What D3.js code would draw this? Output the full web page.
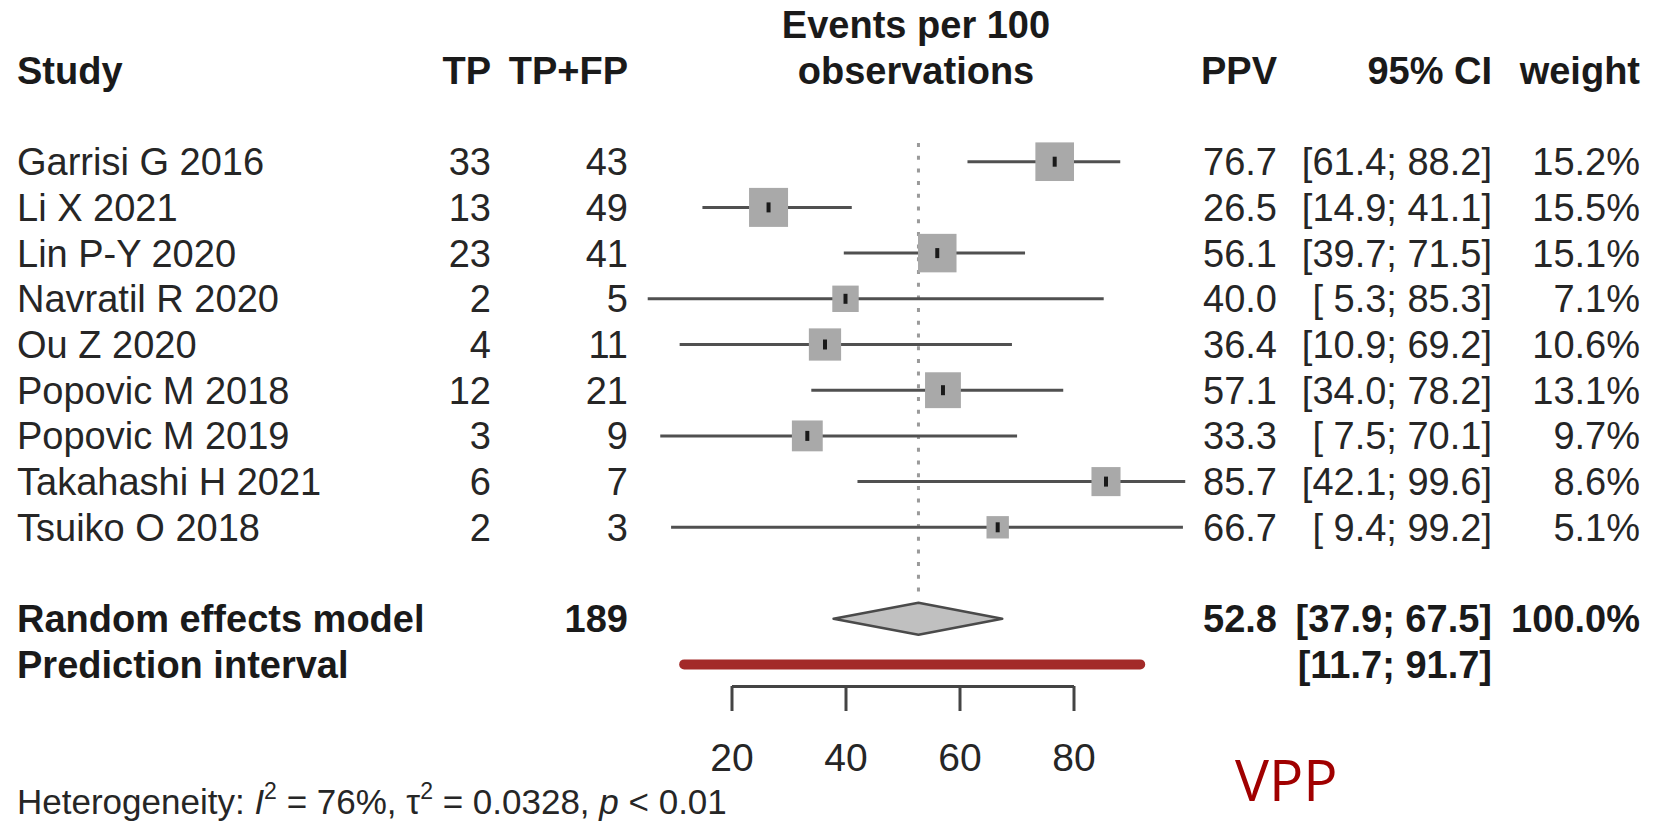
<!DOCTYPE html>
<html>
<head>
<meta charset="utf-8">
<script src="https://cdn.jsdelivr.net/npm/d3@7"></script>
<style>
  html, body { margin: 0; padding: 0; background: #fff; }
  text { font-family: "Liberation Sans", Arial, sans-serif; fill: #262626; white-space: pre; }
  .bold { font-weight: bold; fill: #1a1a1a; }
</style>
</head>
<body>
<div id="chart"></div>
<script>
document.addEventListener('DOMContentLoaded', init, false);

var width = 1663;
var height = 826;

var studies = ['Garrisi G 2016', 'Li X 2021', 'Lin P-Y 2020', 'Navratil R 2020', 'Ou Z 2020',
  'Popovic M 2018', 'Popovic M 2019', 'Takahashi H 2021', 'Tsuiko O 2018'];
var tp = [33, 13, 23, 2, 4, 12, 3, 6, 2];
var tpfp = [43, 49, 41, 5, 11, 21, 9, 7, 3];
var ppv = [76.7, 26.5, 56.1, 40.0, 36.4, 57.1, 33.3, 85.7, 66.7];
var lower = [61.4, 14.9, 39.7, 5.3, 10.9, 34.0, 7.5, 42.1, 9.4];
var upper = [88.2, 41.1, 71.5, 85.3, 69.2, 78.2, 70.1, 99.6, 99.2];
var weights = [15.2, 15.5, 15.1, 7.1, 10.6, 13.1, 9.7, 8.6, 5.1];

var pooled = [52.8, 37.9, 67.5];
var pooledTotal = 189;
var pooledWeight = 100.0;
var prediction = [11.7, 91.7];
var xTicks = [20, 40, 60, 80];

var fontSize = 38;

function init() {

  var svg = d3.select('#chart')
    .append('svg')
      .attr('width', width)
      .attr('height', height);

  var x = d3.scaleLinear()
    .domain([20, 80])
    .range([731.5, 1073.5]);

  // row index -> row centre
  var y = d3.scaleLinear()
    .domain([0, 8])
    .range([161.7, 527.3]);

  var box = d3.scaleSqrt()
    .domain([0, 15.5])
    .range([0, 39]);

  var col = { study: 17, tp: 491, tpfp: 628, ppv: 1277, ci: 1492, weight: 1640 };
  var base = 13.5;

  drawHeader(svg, col, x);
  drawStudies(svg, col, x, y, box, base);
  drawSummary(svg, col, x, y, base);
  drawAxis(svg, x);
  drawFooter(svg);
}

function fmtCI(lo, hi) {
  var a = lo.toFixed(1);
  if (lo < 10) a = ' ' + a;
  return '[' + a + '; ' + hi.toFixed(1) + ']';
}

function addText(g, txt, xPos, yPos, anchor, cls) {
  return g.append('text')
    .attr('x', xPos)
    .attr('y', yPos)
    .attr('text-anchor', anchor)
    .attr('class', cls || null)
    .attr('font-size', fontSize)
    .text(txt);
}

function drawHeader(svg, col, x) {

  var g = svg.append('g').attr('class', 'header');
  var hy = 84;

  addText(g, 'Study', col.study, hy, 'start', 'bold');
  addText(g, 'TP', col.tp, hy, 'end', 'bold');
  addText(g, 'TP+FP', col.tpfp, hy, 'end', 'bold');
  addText(g, 'Events per 100', 916, 38, 'middle', 'bold');
  addText(g, 'observations', 916, hy, 'middle', 'bold');
  addText(g, 'PPV', col.ppv, hy, 'end', 'bold');
  addText(g, '95% CI', col.ci, hy, 'end', 'bold');
  addText(g, 'weight', col.weight, hy, 'end', 'bold');
}

function drawStudies(svg, col, x, y, box, base) {

  // reference line at the pooled estimate
  svg.append('line')
    .attr('x1', x(pooled[0]))
    .attr('x2', x(pooled[0]))
    .attr('y1', 143)
    .attr('y2', 600)
    .attr('stroke', '#9a9a9a')
    .attr('stroke-width', 3)
    .attr('stroke-dasharray', '4,8.7');

  var rows = svg.append('g')
      .attr('class', 'studies')
    .selectAll('g')
      .data(studies)
      .enter()
    .append('g');

  rows.append('line')
    .attr('x1', function (d, i) { return x(lower[i]); })
    .attr('x2', function (d, i) { return x(upper[i]); })
    .attr('y1', function (d, i) { return y(i); })
    .attr('y2', function (d, i) { return y(i); })
    .attr('stroke', '#505050')
    .attr('stroke-width', 3);

  rows.append('rect')
    .attr('x', function (d, i) { return x(ppv[i]) - box(weights[i]) / 2; })
    .attr('y', function (d, i) { return y(i) - box(weights[i]) / 2; })
    .attr('width', function (d, i) { return box(weights[i]); })
    .attr('height', function (d, i) { return box(weights[i]); })
    .attr('fill', '#a9a9a9');

  rows.append('line')
    .attr('x1', function (d, i) { return x(ppv[i]); })
    .attr('x2', function (d, i) { return x(ppv[i]); })
    .attr('y1', function (d, i) { return y(i) - 5; })
    .attr('y2', function (d, i) { return y(i) + 5; })
    .attr('stroke', '#1a1a1a')
    .attr('stroke-width', 4);

  rows.each(function (d, i) {
    var g = d3.select(this);
    var ty = y(i) + base;
    addText(g, d, col.study, ty, 'start');
    addText(g, tp[i], col.tp, ty, 'end');
    addText(g, tpfp[i], col.tpfp, ty, 'end');
    addText(g, ppv[i].toFixed(1), col.ppv, ty, 'end');
    addText(g, fmtCI(lower[i], upper[i]), col.ci, ty, 'end');
    addText(g, weights[i].toFixed(1) + '%', col.weight, ty, 'end');
  });
}

function drawSummary(svg, col, x, y, base) {

  var g = svg.append('g').attr('class', 'summary');
  var ry = y(10);
  var py = y(11);

  var diamond = [
    [x(pooled[1]), ry],
    [x(pooled[0]), ry - 16],
    [x(pooled[2]), ry],
    [x(pooled[0]), ry + 16]
  ];

  g.append('path')
    .attr('d', d3.line()(diamond) + 'Z')
    .attr('fill', '#c0c0c0')
    .attr('stroke', '#4a4a4a')
    .attr('stroke-width', 2.5)
    .attr('stroke-linejoin', 'round');

  g.append('line')
    .attr('x1', x(prediction[0]))
    .attr('x2', x(prediction[1]))
    .attr('y1', py)
    .attr('y2', py)
    .attr('stroke', '#a32a29')
    .attr('stroke-width', 10)
    .attr('stroke-linecap', 'round');

  addText(g, 'Random effects model', col.study, ry + base, 'start', 'bold');
  addText(g, pooledTotal, col.tpfp, ry + base, 'end', 'bold');
  addText(g, pooled[0].toFixed(1), col.ppv, ry + base, 'end', 'bold');
  addText(g, fmtCI(pooled[1], pooled[2]), col.ci, ry + base, 'end', 'bold');
  addText(g, pooledWeight.toFixed(1) + '%', col.weight, ry + base, 'end', 'bold');

  addText(g, 'Prediction interval', col.study, py + base, 'start', 'bold');
  addText(g, fmtCI(prediction[0], prediction[1]), col.ci, py + base, 'end', 'bold');
}

function drawAxis(svg, x) {

  var axis = svg.append('g')
    .attr('class', 'axis')
    .attr('transform', 'translate(0,686)')
    .call(d3.axisBottom(x)
      .tickValues(xTicks)
      .tickSize(25)
      .tickSizeOuter(0)
      .tickPadding(32));

  axis.select('.domain')
    .attr('stroke', '#444')
    .attr('stroke-width', 3);

  axis.selectAll('.tick line')
    .attr('stroke', '#444')
    .attr('stroke-width', 3);

  axis.selectAll('.tick text')
    .attr('font-size', 39)
    .attr('font-family', '"Liberation Sans", Arial, sans-serif')
    .attr('fill', '#262626');
}

function drawFooter(svg) {

  var het = svg.append('text')
    .attr('x', 17)
    .attr('y', 814)
    .attr('font-size', 35);

  het.append('tspan').text('Heterogeneity: ');
  het.append('tspan').attr('font-style', 'italic').text('I');
  het.append('tspan').attr('font-size', 23).attr('dy', -15).text('2');
  het.append('tspan').attr('dy', 15).text(' = 76%, \u03c4');
  het.append('tspan').attr('font-size', 23).attr('dy', -15).text('2');
  het.append('tspan').attr('dy', 15).text(' = 0.0328, ');
  het.append('tspan').attr('font-style', 'italic').text('p');
  het.append('tspan').text(' < 0.01');

  svg.append('text')
    .attr('x', 1235)
    .attr('y', 801)
    .attr('font-size', 57)
    .style('font-family', '"Open Sans", "Noto Sans", sans-serif')
    .style('fill', '#a00000')
    .text('VPP');
}
</script>
</body>
</html>
